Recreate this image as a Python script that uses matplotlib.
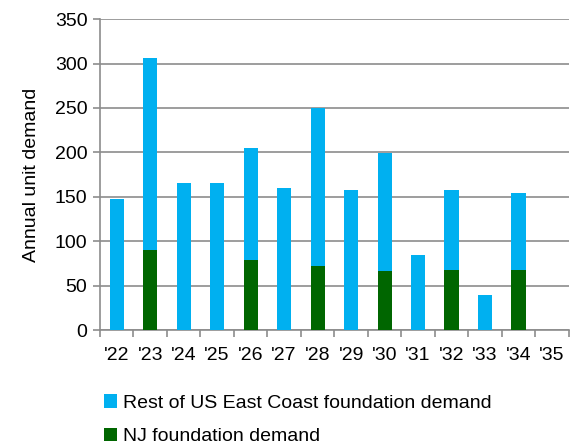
import matplotlib.pyplot as plt
import numpy as np

plt.rcParams['font.family'] = ['Liberation Sans', 'DejaVu Sans']

# data
years = ["'22", "'23", "'24", "'25", "'26", "'27", "'28", "'29", "'30", "'31", "'32", "'33", "'34", "'35"]
nj_demand = [0, 90, 0, 0, 79, 0, 72, 0, 66, 0, 68, 0, 68, 0]
total_demand = [147, 306, 165, 165, 205, 160, 250, 158, 199, 84, 158, 39, 154, 0]
rest_demand = [t - n for t, n in zip(total_demand, nj_demand)]

blue = '#00B0F0'
green = '#006600'
gray = '#8C8C8C'

fig = plt.figure(figsize=(5.71, 4.46), dpi=100)
ax = fig.add_axes([0.175, 0.260, 0.821, 0.697])

x = np.arange(len(years))
ax.bar(x, nj_demand, width=0.42, color=green, zorder=3, label='NJ foundation demand')
ax.bar(x, rest_demand, width=0.42, bottom=nj_demand, color=blue, zorder=3,
       label='Rest of US East Coast foundation demand')

ax.set_xlim(-0.5, len(years) - 0.5)
ax.set_ylim(0, 350)
ax.set_yticks(range(0, 351, 50))
ax.set_xticks(x)
ax.set_xticklabels(years)
ax.set_xticks(np.arange(-0.5, len(years), 1), minor=True)
ax.tick_params(axis='x', which='major', length=0, pad=12, labelsize=14)
ax.tick_params(axis='x', which='minor', length=5, width=1.2, color=gray, direction='out')
ax.tick_params(axis='y', length=5, width=1.2, color=gray, labelsize=14, pad=4)

ax.grid(axis='y', color=gray, linewidth=1.2, zorder=0)
for side in ['top', 'right']:
    ax.spines[side].set_visible(False)
for side in ['left', 'bottom']:
    ax.spines[side].set_color(gray)
    ax.spines[side].set_linewidth(1.2)

ax.set_ylabel('Annual unit demand', fontsize=14, labelpad=11)

handles, labels = ax.get_legend_handles_labels()
fig.legend(handles[::-1], labels[::-1], loc='upper left', bbox_to_anchor=(0.168, 0.133),
           frameon=False, fontsize=14, handlelength=0.7, handleheight=0.7,
           handletextpad=0.3, labelspacing=0.8, borderaxespad=0)

fig.savefig('out.png', dpi=100)
